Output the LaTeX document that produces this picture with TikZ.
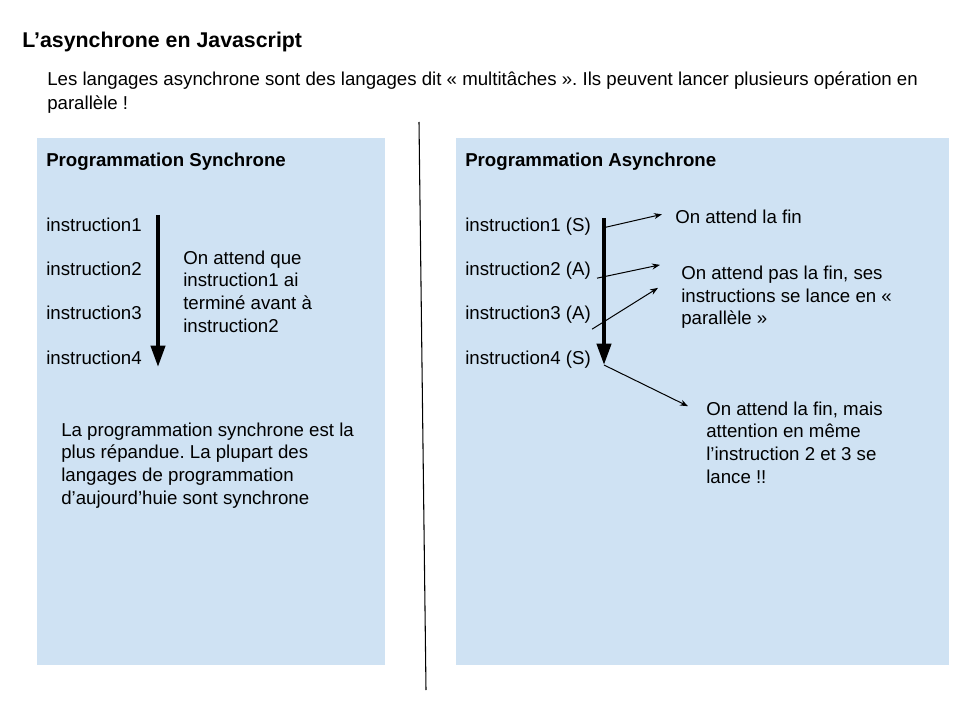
\documentclass[tikz,border=0pt]{standalone}
\usepackage{fontspec}
\setmainfont{Liberation Sans}
\usetikzlibrary{arrows.meta,positioning}
\definecolor{panelblue}{HTML}{CFE2F3}
\frenchspacing

\begin{document}
\begin{tikzpicture}[x=0.75pt, y=-0.75pt,
  panel/.style={fill=panelblue, draw=none},
  txt/.style={anchor=base west, inner sep=0pt, align=left, font=\fontsize{14}{17}\selectfont},
  hdr/.style={txt, font=\fontsize{14}{17}\selectfont\bfseries},
  flow/.style={-{Triangle[length=16pt, width=10.5pt]}, line width=3pt},
  arr/.style={-{Stealth[length=6pt, width=4.5pt]}, line width=0.75pt}]
\useasboundingbox (0,0) rectangle (960,720);

% Header (multi-line nodes sit on their last baseline)
\node[txt, font=\fontsize{16}{19}\selectfont\bfseries] (title) at (22,48) {L’asynchrone en Javascript};
\node[txt, font=\fontsize{14}{18}\selectfont] (intro) at (47,110) {Les langages asynchrone sont des langages dit « multitâches ». Ils peuvent lancer plusieurs opération en\\parallèle !};

% Panels and divider
\path[panel] (37,138) rectangle (385,665);
\path[panel] (456,138) rectangle (949,665);
\draw[line width=0.8pt] (419,122) -- (426,690);

% Left panel: synchronous
\node[hdr] (syncT) at (46,167) {Programmation Synchrone};
\node[txt] (s1) at (46,232) {instruction1};
\node[txt] (s2) at (46,276) {instruction2};
\node[txt] (s3) at (46,320) {instruction3};
\node[txt] (s4) at (46,364) {instruction4};
\coordinate (sTop) at (158,215);
\coordinate (sEnd) at (158,367);
\draw[flow] (sTop) -- (sEnd);
\node[txt] (sNote) at (183,332) {On attend que\\instruction1 ai\\terminé avant à\\instruction2};
\node[txt] (sSum) at (61,504) {La programmation synchrone est la\\plus répandue. La plupart des\\langages de programmation\\d’aujourd’huie sont synchrone};

% Right panel: asynchronous
\node[hdr] (asyncT) at (465,167) {Programmation Asynchrone};
\node[txt] (a1) at (465,232) {instruction1 (S)};
\node[txt] (a2) at (465,276) {instruction2 (A)};
\node[txt] (a3) at (465,320) {instruction3 (A)};
\node[txt] (a4) at (465,364) {instruction4 (S)};
\coordinate (aTop) at (604,218);
\coordinate (aEnd) at (604,365);
\draw[flow] (aTop) -- (aEnd);
\node[txt] (fin) at (675,224) {On attend la fin};
\node[txt] (par) at (681,325) {On attend pas la fin, ses\\instructions se lance en «\\parallèle »};
\node[txt] (warn) at (706,483) {On attend la fin, mais\\attention en même\\l’instruction 2 et 3 se\\lance !!};

% Thin arrows
\draw[arr] ([xshift=11.25pt, yshift=0pt]a1.east) -- ([xshift=-9.75pt, yshift=2.25pt]fin.west);
\draw[arr] ([xshift=4.5pt, yshift=-5.25pt]a2.east) -- ([xshift=-15.75pt, yshift=0.75pt]par.north west);
\draw[arr] ([xshift=0.75pt, yshift=-10.5pt]a3.east) -- ([xshift=-17.25pt, yshift=-16.5pt]par.north west);
\draw[arr] (aEnd) -- ([xshift=-13.5pt, yshift=-3.75pt]warn.north west);
\end{tikzpicture}
\end{document}
